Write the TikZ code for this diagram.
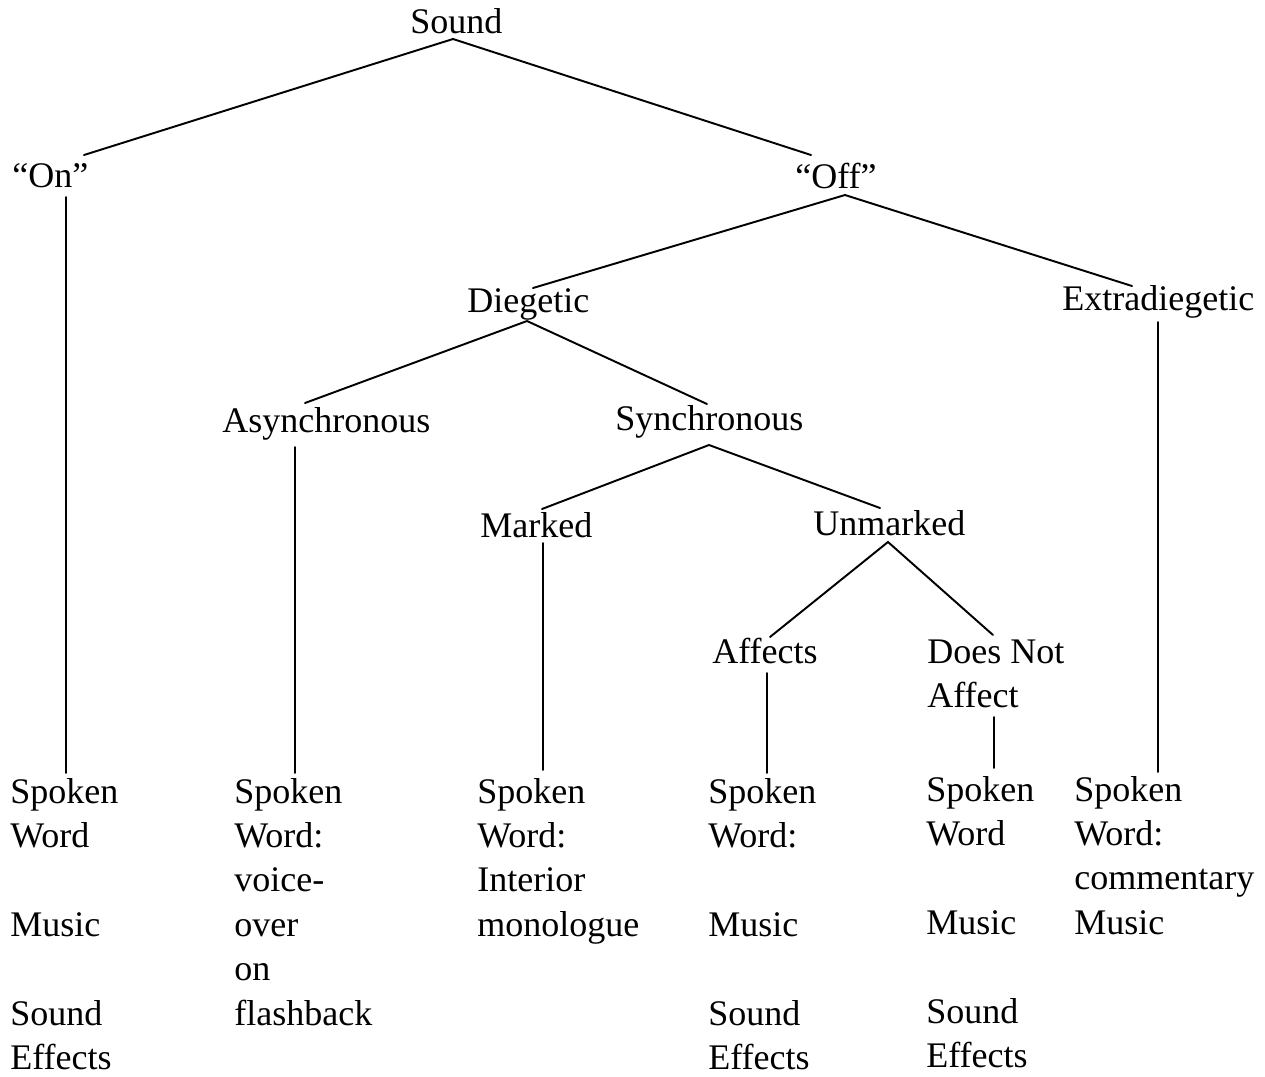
\documentclass[tikz,border=0pt]{standalone}
\usepackage{fontspec}
\setmainfont{Liberation Serif}
\begin{document}
\begin{tikzpicture}[x=0.02cm,y=-0.02cm,
  lbl/.style={anchor=base west, inner sep=0pt, font=\fontsize{20.5}{25.3}\selectfont},
  edge/.style={line width=1.1pt, line cap=round}]
\useasboundingbox (0,0) rectangle (1265,1076);

% category labels
\node[lbl] (sound)  at (410,33)  {Sound};
\node[lbl] (on)     at (12,187)  {“On”};
\node[lbl] (off)    at (795,188) {“Off”};
\node[lbl] (dieg)   at (467,312) {Diegetic};
\node[lbl] (extra)  at (1062,310) {Extradiegetic};
\node[lbl] (async)  at (222,432) {Asynchronous};
\node[lbl] (sync)   at (615,430) {Synchronous};
\node[lbl] (marked) at (480,537) {Marked};
\node[lbl] (unmark) at (813,535) {Unmarked};
\node[lbl] (affects) at (712,663) {Affects};
\node[lbl] (notaff) at (927,663) {\begin{tabular}[t]{@{}l@{}}Does Not\\Affect\end{tabular}};

% leaf lists
\node[lbl] (leafon) at (10,803) {\begin{tabular}[t]{@{}l@{}}Spoken\\Word\\ \\Music\\ \\Sound\\Effects\end{tabular}};
\node[lbl] (leafasync) at (234,803) {\begin{tabular}[t]{@{}l@{}}Spoken\\Word:\\voice-\\over\\on\\flashback\end{tabular}};
\node[lbl] (leafmarked) at (477,803) {\begin{tabular}[t]{@{}l@{}}Spoken\\Word:\\Interior\\monologue\end{tabular}};
\node[lbl] (leafaff) at (708,803) {\begin{tabular}[t]{@{}l@{}}Spoken\\Word:\\ \\Music\\ \\Sound\\Effects\end{tabular}};
\node[lbl] (leafnot) at (926,801) {\begin{tabular}[t]{@{}l@{}}Spoken\\Word\\ \\Music\\ \\Sound\\Effects\end{tabular}};
\node[lbl] (leafextra) at (1074,801) {\begin{tabular}[t]{@{}l@{}}Spoken\\Word:\\commentary\\Music\end{tabular}};

% attachment points of the branches
\coordinate (sound-b)  at (453,39);
\coordinate (on-t)     at (84,155);
\coordinate (on-b)     at (66,197);
\coordinate (off-t)    at (811,155);
\coordinate (off-b)    at (845,195);
\coordinate (dieg-t)   at (533,288);
\coordinate (dieg-b)   at (527,321);
\coordinate (extra-t)  at (1132,286);
\coordinate (extra-b)  at (1158,322);
\coordinate (async-t)  at (305,403);
\coordinate (async-b)  at (295,447);
\coordinate (sync-t)   at (707,404);
\coordinate (sync-b)   at (709,445);
\coordinate (marked-t) at (542,509);
\coordinate (marked-b) at (543,543);
\coordinate (unmark-t) at (880,508);
\coordinate (unmark-b) at (888,542);
\coordinate (affects-t) at (770,637);
\coordinate (affects-b) at (767,673);
\coordinate (notaff-t) at (993,635);
\coordinate (notaff-b) at (994,717);
\coordinate (leafon-t)     at (66,773);
\coordinate (leafasync-t)  at (295,773);
\coordinate (leafmarked-t) at (543,770);
\coordinate (leafaff-t)    at (767,773);
\coordinate (leafnot-t)    at (994,768);
\coordinate (leafextra-t)  at (1158,772);

% branches
\draw[edge] (on-t) -- (sound-b) -- (off-t);
\draw[edge] (dieg-t) -- (off-b) -- (extra-t);
\draw[edge] (async-t) -- (dieg-b) -- (sync-t);
\draw[edge] (marked-t) -- (sync-b) -- (unmark-t);
\draw[edge] (affects-t) -- (unmark-b) -- (notaff-t);

% stems down to the lists
\draw[edge] (on-b) -- (leafon-t);
\draw[edge] (async-b) -- (leafasync-t);
\draw[edge] (marked-b) -- (leafmarked-t);
\draw[edge] (affects-b) -- (leafaff-t);
\draw[edge] (notaff-b) -- (leafnot-t);
\draw[edge] (extra-b) -- (leafextra-t);
\end{tikzpicture}
\end{document}
